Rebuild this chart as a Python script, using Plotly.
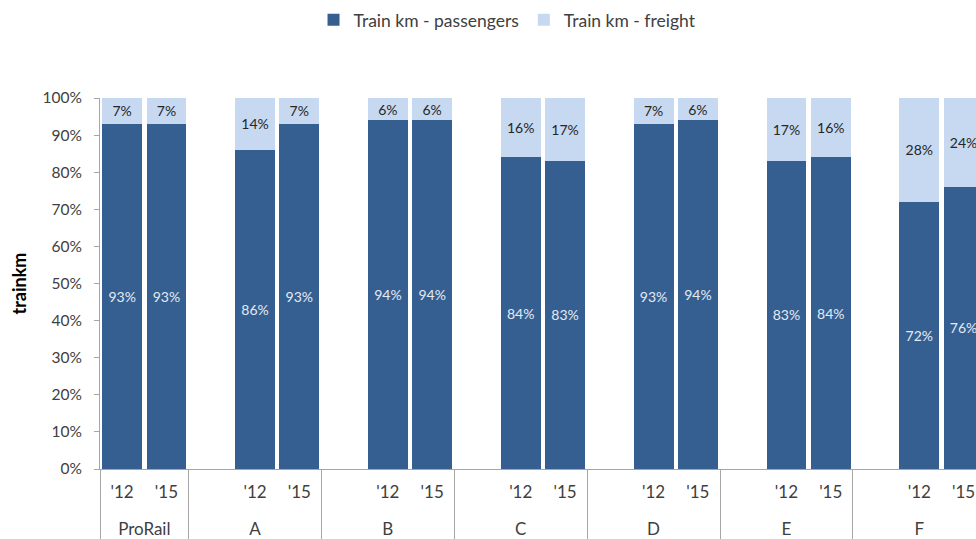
import plotly.graph_objects as go

groups = ["ProRail", "A", "B", "C", "D", "E", "F"]
# ProRail year labels carry a zero-width space so the blank spacer slot of the
# other groups is ordered before their years
prorail_years = ["'12\u200b", "'15\u200b"]
years = ["'12", "'15"]
passengers = {
    "ProRail": [93, 93],
    "A": [86, 93],
    "B": [94, 94],
    "C": [84, 83],
    "D": [93, 94],
    "E": [83, 84],
    "F": [72, 76],
}
freight = {
    "ProRail": [7, 7],
    "A": [14, 7],
    "B": [6, 6],
    "C": [16, 17],
    "D": [7, 6],
    "E": [17, 16],
    "F": [28, 24],
}

DARK = "#355F91"
LIGHT = "#C6D9F1"
GREY = "#A6A6A6"
FONT = "Lato, Carlito, Calibri, sans-serif"
BR = "<br> "  # extra blank line to push group labels down

xg, xs, yp, yf, tp, tf = [], [], [], [], [], []
for i, g in enumerate(groups):
    yrs = prorail_years if i == 0 else years
    if i > 0:
        xg.append(g); xs.append(" ")
        yp.append(None); yf.append(None); tp.append(""); tf.append("")
    for j, yr in enumerate(yrs):
        xg.append(g); xs.append(yr + BR)
        yp.append(passengers[g][j] / 100)
        yf.append(freight[g][j] / 100)
        tp.append(f"{passengers[g][j]}%")
        tf.append(f"{freight[g][j]}%")

fig = go.Figure()
fig.add_trace(go.Bar(
    x=[xg, xs], y=yp, name="Train km - passengers", marker_color=DARK,
    marker_line_width=0, text=tp, textposition="inside", insidetextanchor="middle",
    textfont=dict(color="#E4EAF2", size=15.5, family=FONT), textangle=0,
))
fig.add_trace(go.Bar(
    x=[xg, xs], y=yf, name="Train km - freight", marker_color=LIGHT,
    marker_line_width=0, text=tf, textposition="inside", insidetextanchor="middle",
    textfont=dict(color="#262626", size=15.5, family=FONT), textangle=0,
))

fig.update_layout(
    barmode="stack",
    bargap=0.1,
    width=976, height=539,
    margin=dict(l=100, r=0, t=98, b=70),
    plot_bgcolor="white", paper_bgcolor="white",
    font=dict(family=FONT, size=17, color="#404040"),
    uniformtext=dict(minsize=10, mode="show"),
    legend=dict(
        orientation="h", xref="container", yref="container",
        x=0.52, y=0.963, xanchor="center", yanchor="middle",
        font=dict(size=17.5, color="#404040"), traceorder="normal",
        itemwidth=30,
    ),
    showlegend=True,
)
fig.update_xaxes(
    type="multicategory",
    range=[-0.5, 19.28],
    showline=True, linecolor=GREY, linewidth=1,
    showdividers=True, dividercolor=GREY, dividerwidth=1,
    ticks="", tickfont=dict(size=17, color="#404040"),
    ticklabelstandoff=8,
    showgrid=False, automargin=False,
)
fig.update_yaxes(
    range=[0, 1], tickformat=".0%", dtick=0.1,
    showline=True, linecolor=GREY, linewidth=1,
    ticks="outside", ticklen=5, tickcolor=GREY,
    ticklabelstandoff=9,
    showgrid=False, zeroline=False, automargin=False,
    tickfont=dict(size=15.5, color="#404040"),
    title=dict(text="<b>trainkm</b>", font=dict(size=18, color="#000000"), standoff=11),
)

fig.write_html("out.html", config={"displayModeBar": False})

# remove default page margin so the figure fills the window exactly
with open("out.html", encoding="utf-8") as fh:
    html = fh.read()
html = html.replace("<body>", '<body style="margin:0;padding:0;">', 1)
with open("out.html", "w", encoding="utf-8") as fh:
    fh.write(html)
